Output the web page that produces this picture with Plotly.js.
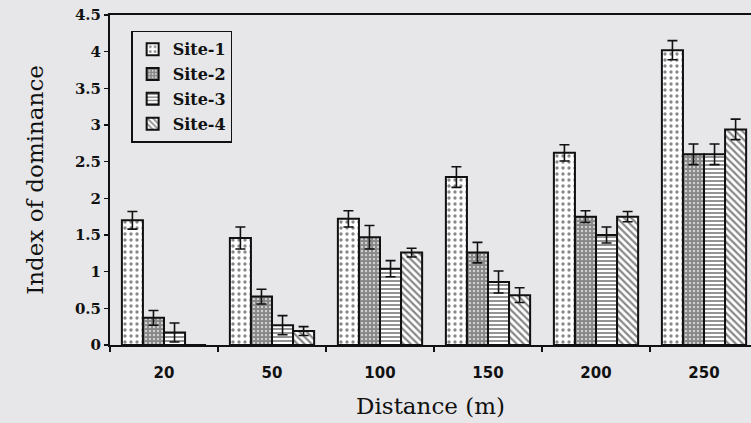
<!DOCTYPE html>
<html>
<head>
<meta charset="utf-8">
<script src="https://cdn.plot.ly/plotly-3.0.1.min.js"></script>
<style>html,body{margin:0;padding:0;background:#e7e7e9;}#chart{width:751px;height:423px;}</style>
</head>
<body>
<div id="chart"></div>
<script>
var distances = ['20', '50', '100', '150', '200', '250'];
var siteNames = ['Site-1', 'Site-2', 'Site-3', 'Site-4'];
var site1 = [1.70, 1.46, 1.72, 2.29, 2.62, 4.02];
var site2 = [0.37, 0.66, 1.47, 1.26, 1.75, 2.60];
var site3 = [0.17, 0.27, 1.04, 0.86, 1.50, 2.60];
var site4 = [0.00, 0.19, 1.26, 0.68, 1.75, 2.94];
var err1 = [0.12, 0.15, 0.11, 0.14, 0.11, 0.13];
var err2 = [0.10, 0.10, 0.16, 0.14, 0.08, 0.14];
var err3 = [0.13, 0.13, 0.11, 0.15, 0.11, 0.14];
var err4 = [0.00, 0.06, 0.06, 0.10, 0.07, 0.14];

var values = [site1, site2, site3, site4];
var errors = [err1, err2, err3, err4];
var patterns = [
  {shape: '.', size: 6, solidity: 0.25},
  {shape: '.', size: 4, solidity: 0.8},
  {shape: '-', size: 4, solidity: 0.45},
  {shape: '\\', size: 5, solidity: 0.45}
];

var traces = siteNames.map(function (name, i) {
  return {
    type: 'bar',
    name: name,
    legendgroup: name,
    x: distances,
    y: values[i],
    marker: {
      color: '#ffffff',
      line: {color: '#111111', width: 2},
      pattern: {shape: patterns[i].shape, size: patterns[i].size, solidity: patterns[i].solidity, fgcolor: '#111111', bgcolor: '#ffffff', fillmode: 'overlay'}
    },
    error_y: {type: 'data', array: errors[i], visible: true, color: '#111111', thickness: 1.6, width: 5}
  };
});

var layout = {
  width: 751,
  height: 423,
  margin: {l: 110, r: 0, t: 15, b: 78},
  paper_bgcolor: '#e7e7e9',
  plot_bgcolor: '#e7e7e9',
  barmode: 'group',
  bargap: 0.22,
  bargroupgap: 0,
  showlegend: true,
  legend: {
    x: 0.033, y: 0.952, xanchor: 'left', yanchor: 'top',
    bgcolor: 'rgba(0,0,0,0)', bordercolor: '#111111', borderwidth: 1.5,
    font: {family: 'DejaVu Serif', size: 16, color: '#111111', weight: 'bold'},
    itemwidth: 30, traceorder: 'grouped', tracegroupgap: 1
  },
  xaxis: {
    type: 'category',
    categoryorder: 'array',
    categoryarray: distances,
    range: [-0.5, 5.435],
    showline: true, linecolor: '#111111', linewidth: 2, mirror: true,
    ticks: 'outside', tickson: 'boundaries', ticklen: 5, tickwidth: 1.5, tickcolor: '#111111',
    ticklabelstandoff: 13,
    showgrid: false, zeroline: false,
    tickfont: {family: 'DejaVu Sans', size: 15, color: '#111111', weight: 'bold'},
    title: {text: 'Distance (m)', font: {family: 'DejaVu Serif', size: 23, color: '#111111'}, standoff: 17}
  },
  yaxis: {
    range: [0, 4.5],
    dtick: 0.5,
    showline: true, linecolor: '#111111', linewidth: 2,
    ticks: 'outside', ticklen: 4, tickwidth: 1.5, tickcolor: '#111111',
    showgrid: false, zeroline: false,
    tickfont: {family: 'DejaVu Serif', size: 15, color: '#111111', weight: 'bold'},
    title: {text: 'Index of dominance', font: {family: 'DejaVu Serif', size: 23, color: '#111111'}, standoff: 25}
  }
};

Plotly.newPlot('chart', traces, layout, {displayModeBar: false, staticPlot: true});
</script>
</body>
</html>
